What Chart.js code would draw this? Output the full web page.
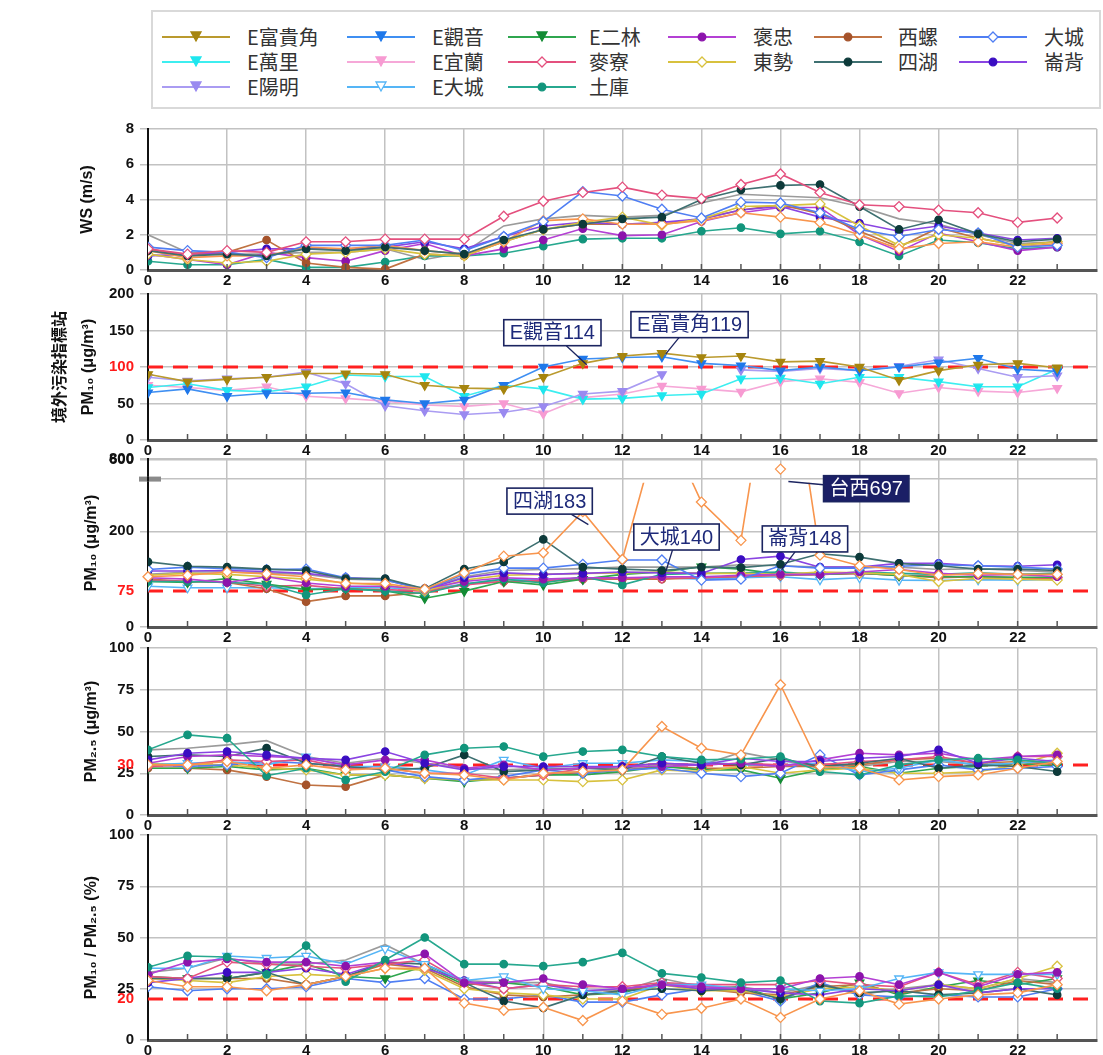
<!DOCTYPE html>
<html>
<head>
<meta charset="utf-8">
<script src="https://cdn.jsdelivr.net/npm/chart.js@4.4.1/dist/chart.umd.min.js"></script>
<style>
body { margin: 0; background: #fff; width: 1103px; height: 1055px; position: relative; overflow: hidden; }
canvas { position: absolute; left: 0; }
#legendBox { position: absolute; left: 151px; top: 10px; width: 946px; height: 95px; border: 2px solid #d9d9d9; }
.lgSample { position: absolute; }
.lgText { position: absolute; font: 20px 'Noto Sans CJK TC', sans-serif; color: #333; line-height: 22px; white-space: nowrap; }
</style>
</head>
<body>
<div id="legendBox"></div>
<script>
const hours = [0,1,2,3,4,5,6,7,8,9,10,11,12,13,14,15,16,17,18,19,20,21,22,23];

// legend order (6 per row)
const stations = ['E富貴角','E觀音','E二林','褒忠','西螺','大城','E萬里','E宜蘭','麥寮','東勢','四湖','崙背','E陽明','E大城','土庫'];

// styles per name (台西 and the grey line are not in the legend)
const styleNames   = ['E富貴角','E觀音','E二林','褒忠','西螺','大城','E萬里','E宜蘭','麥寮','東勢','四湖','崙背','E陽明','E大城','土庫','台西',''];
const lineColors   = ['#BA9A2E','#3F8FF2','#2FA64F','#B440D4','#C07242','#4F7EF3','#3DEEF0','#F6A8D8','#E4507E','#D8C13E','#3E7071','#8A44E2','#AA9CF2','#55B5F6','#27A88F','#F8954D','#9B9B9B'];
const markerColors = ['#A6850F','#1F78EA','#138B34','#8C14AC','#A5532B','#4F7EF3','#1FE6EE','#F79BD2','#E4507E','#D8C13E','#0D3A3A','#3A0DC2','#9A8AF0','#55B5F6','#12957C','#F8954D',null];
const markerShapes = ['tri','tri','tri','circle','circle','diamond','tri','tri','diamond','diamond','circle','circle','tri','tri','circle','diamond',null];
const markerOpen   = [0,0,0,0,0,1,0,0,1,1,0,0,0,1,0,1,0];

// ---- panel 1: WS (m/s)
const wsNames = ['麥寮','四湖','大城','台西','東勢','崙背','西螺','褒忠','土庫',''];
const wsValues = [
  [1.2,0.9,1.1,1.0,1.6,1.6,1.75,1.75,1.75,3.05,3.9,4.4,4.7,4.25,4.05,4.85,5.45,4.4,3.7,3.6,3.4,3.25,2.7,2.95],
  [1.1,0.8,0.9,0.8,1.2,1.1,1.3,1.1,0.9,1.7,2.3,2.6,2.9,3.0,4.0,4.55,4.8,4.85,3.6,2.3,2.85,2.05,1.6,1.75],
  [1.3,1.1,1.0,0.7,1.4,1.4,1.4,1.7,1.1,1.9,2.75,4.45,4.2,3.45,2.95,3.85,3.8,3.25,2.3,1.9,2.3,2.1,1.3,1.4],
  [1.1,0.7,0.8,0.8,1.3,1.2,1.4,1.1,0.9,1.6,2.8,2.9,2.6,2.6,2.8,3.25,3.0,2.7,2.0,1.2,1.5,1.6,1.3,1.5],
  [0.9,0.6,0.4,0.5,0.9,1.0,1.2,0.9,0.8,1.6,2.3,2.7,3.0,2.55,2.9,3.6,3.65,3.75,2.5,1.4,2.0,1.8,1.4,1.6],
  [0.8,0.9,1.0,1.2,1.2,1.2,1.3,1.6,1.2,1.9,2.5,2.7,2.6,2.7,2.9,3.4,3.6,3.0,2.65,2.2,2.5,2.1,1.7,1.8],
  [1.2,0.8,1.0,1.7,0.4,0.15,0.05,0.9,0.8,1.6,2.3,2.6,2.6,2.6,2.9,3.4,3.7,3.2,2.2,1.3,2.4,1.8,1.4,1.6],
  [0.9,0.6,0.3,1.0,0.7,0.5,1.1,1.5,0.8,1.2,1.7,2.35,1.95,2.0,2.75,3.25,3.55,3.55,2.0,1.05,2.1,1.6,1.1,1.3],
  [0.5,0.3,0.3,0.6,0.15,0.15,0.45,0.8,0.8,0.95,1.35,1.75,1.8,1.8,2.2,2.4,2.05,2.2,1.6,0.8,1.7,1.55,1.2,1.3],
  [2.0,1.0,0.9,0.9,1.0,1.0,1.2,0.6,1.0,2.5,2.9,3.1,3.0,3.1,3.8,4.3,4.2,4.1,3.6,2.9,2.6,2.0,1.5,1.6]
];
const wsTicks = [0,2,4,6,8];
const wsTickLabels = ['0','2','4','6','8'];

// ---- panel 2: PM10 at the background (E) stations
const pm10ENames = ['E富貴角','E觀音','E陽明','E萬里','E宜蘭','E二林'];
const pm10EValues = [
  [90,80,83,86,91,91,90,75,71,70,86,105,115,119,113,115,107,108,100,82,95,103,105,99],
  [65,70,60,64,64,65,55,50,55,75,100,111,113,114,105,102,95,100,95,100,106,112,97,94],
  [86,81,84,86,93,77,47,40,35,38,46,63,67,90,null,96,94,98,95,101,110,98,86,88],
  [72,77,68,66,73,89,87,87,60,75,70,56,57,61,63,84,85,77,86,86,80,73,73,97],
  [75,72,68,73,60,57,53,48,46,50,36,58,63,74,70,66,80,84,79,64,72,67,65,71],
  [null,null,null,null,null,null,null,null,null,null,null,null,null,null,null,null,null,null,null,null,null,null,null,98]
];
const pm10ETicks = [0,50,100,150,200];
const pm10ETickLabels = ['0','50','100','150','200'];

// ---- panel 3: PM10 (broken axis, top band 600-800)
const pm10Names = ['台西','四湖','大城','崙背','褒忠','東勢','土庫','E二林','麥寮','西螺','E大城',''];
const pm10Values = [
  [105,108,115,111,105,91,91,79,113,148,155,241,141,440,261,181,697,150,128,120,108,112,110,110],
  [136,127,125,121,118,101,101,80,121,136,183,125,121,118,125,124,131,153,146,133,128,121,121,118],
  [120,125,122,120,121,103,98,78,110,123,123,131,140,140,98,100,128,123,123,127,130,128,125,121],
  [117,117,118,116,112,103,100,78,103,113,110,112,115,113,112,141,148,125,125,133,133,128,127,130],
  [103,100,93,105,92,85,85,80,95,103,100,103,103,105,105,108,110,110,115,120,112,108,110,105],
  [108,112,110,105,100,92,88,75,98,108,110,112,113,115,112,112,110,115,113,110,95,102,100,98],
  [95,95,93,90,67,80,75,70,90,100,92,105,88,110,112,113,115,110,115,112,110,113,110,112],
  [95,93,101,90,78,80,76,60,75,95,88,100,110,115,126,121,110,110,113,107,105,105,104,104],
  [98,95,94,85,87,80,78,75,88,95,97,100,102,102,103,106,108,110,112,108,106,105,103,103],
  [100,95,93,80,53,65,65,72,90,95,95,100,100,100,103,105,108,110,112,108,103,105,103,100],
  [85,82,82,82,80,82,82,78,90,100,98,100,103,103,100,103,105,99,103,98,97,99,98,100],
  [110,115,115,113,110,100,98,80,105,118,120,122,125,125,125,130,128,125,125,125,120,122,118,115]
];
const pm10Break = 302;          // top of the lower part of the axis
const pm10Max = 351;            // top of the plot
const pm10BandRange = [600, 800];
const pm10Ticks = [0,75,200,310,349,351];
const pm10TickLabels = ['0','75','200','','600','800'];

// ---- panel 4: PM2.5
const pm25Names = ['台西','土庫','崙背','褒忠','四湖','麥寮','E大城','大城','東勢','E二林','西螺',''];
const pm25Values = [
  [30,30,32,28,30,27,28,25,24,21,25,26,27,53,40,36,78,29,28,21,23,24,28,32],
  [39,48,46,23.5,28,21,26,36,40,41,35,38,39,35,33,33.5,35,26,24,30,33,34,33,31],
  [33,37,38,36,34,33,38,31,27,29,29,29,29,31,30,34,32,32,34,35,39,31,34,32],
  [31,35,36,35,34,30,33,33,28,30,27,28,29,29,30,31,29,33,37,36,37,33,35,36],
  [35,36,35,40,31,29,27,28,36,26,27,28,27,35,31,30,34,29,31,34,28,30,29,26],
  [29,30,33,32,33,28,28,25,25,22,24,28,29,31,30,31,30,30,32,33,35,31,35,35],
  [30,31,32,30,35,29,29,27,24,33,28,31,31,33,32,30,30,31,26,28,33,30,31,33],
  [30,29,30,32,31,29,27,23,21,23,27,25,27,28,25,23,25,36,24,27,30,27,28,29],
  [31,30,30,28,27,24,24,22,21,21,21,20,21,27,26,29,25,27,28,25,25,26,30,37],
  [28,28,29,27,28,24,24,22,20,22,24,24,26,29,27,27,22,27,29,25,28,29,31,29],
  [28,28,27,23,18,17,24,22,21,22,24,25,27,29,28,28,29,29,30,33,34,31,32,30],
  [39,40,42,44.5,35,31,34,31,28,27,28,28,28,30,30,37.5,33,28,29,32,32,30,31,32]
];
const pm25Ticks = [0,25,30,50,75,100];
const pm25TickLabels = ['0','25','30','50','75','100'];

// ---- panel 5: PM10 / PM2.5 (%)
const ratioNames = ['台西','土庫','褒忠','E大城','麥寮','崙背','四湖','東勢','西螺','E二林','大城',''];
const ratioValues = [
  [29,26,26,24,27,31,35,35,18,14.5,16,9.5,19,12.5,15.5,20,11,20,24,17.5,20,22,23,27],
  [35.5,41,40.5,32,46,28.5,39,50,37,37,36,38,42.5,32.5,30.5,28,29,19,18,21.5,21,24,28,25],
  [32,38,39.5,38,38,36,38,42,28,28,30,27,25,27,26,25,25,30,31,27,33,26,32,33],
  [35,35,41,40,41,37,44.5,37,29,31,25,24,22,27,27,25,25,24,25,30,33,32,32,32],
  [31,30,38,37,36,35,37,39,28,25,27,26,26,28,27,27,27,29,27,26,33,27,33,30],
  [28,30,33,33,35,32,38,35,29,25,27,24,25,27,25,25,23,22,25,24,27,23,25,25],
  [30,30,30,33,27,31,38,37,28,19,15.7,22,24,25,24,25,20,27,23,24,22,23,25,22],
  [30,29,28,31,32,31,35,34,25,23,22,20,20,27,24,24,21,25,26,24,27,25,30,36],
  [30,30,30,30,27,31,37,35,26,22,21,22,24,27,25,23,22,26,27,23,25,24,29,27],
  [31,30,30,33,37,31,30,36,27,28,26,22,23,28,24,26,20,23,28,22,26,29,27,30],
  [26,24,25,25,26,30,28,30,20,20,22,18.5,18.5,22,25,24,19,28,22,21,22,21,21,25],
  [33,35,40,37,37,39,46.5,37,29,28,28,24,24,30,26,26,23,27,22,25,27,25,30,28]
];
const ratioTicks = [0,20,25,50,75,100];
const ratioTickLabels = ['0','20','25','50','75','100'];

// callouts: text, box centre (hour, value), tip (hour, value), dark box
const pm10ENotes = [
  ['E觀音114', 10.23, 147, 11.1, 103, false],
  ['E富貴角119', 13.7, 158, 13.1, 118, false]
];
const pm10Notes = [
  ['四湖183', 10.16, 263, 11.14, 214, false],
  ['大城140', 13.37, 188, 13.1, 116, false],
  ['崙背148', 16.62, 184, 16.03, 120, false],
  ['台西697', 18.17, 289, 16.2, 304, true]
];

const tickFont = { family: "'Liberation Sans', Arial, sans-serif", size: 15, weight: 'bold' };
const titleFont = { family: "'Liberation Sans', 'Noto Sans CJK TC', sans-serif", size: 16, weight: 'bold' };
const gridColor = '#c2c2c2';

function pointStyleOf(shape) {
  if (shape === 'tri') return 'triangle';
  if (shape === 'diamond') return 'rectRot';
  return 'circle';
}

function makeDataset(name, values, extra) {
  const s = styleNames.indexOf(name);
  const shape = markerShapes[s];
  return Object.assign({
    label: name,
    data: values.map((v, i) => ({ x: hours[i], y: v })),
    borderColor: lineColors[s],
    borderWidth: 1.6,
    pointStyle: pointStyleOf(shape),
    pointRotation: shape === 'tri' ? 180 : 0,
    pointRadius: shape ? (shape === 'circle' ? 3.7 : 5) : 0,
    pointBackgroundColor: markerOpen[s] ? '#ffffff' : (markerColors[s] || lineColors[s]),
    pointBorderColor: markerColors[s] || lineColors[s],
    pointBorderWidth: 1.3,
    tension: 0,
    spanGaps: false
  }, extra || {});
}

function makePanel(p) {
  const padTop = 12, axisH = 22;
  const canvas = document.createElement('canvas');
  const h = p.bottom - p.top + padTop + axisH;
  canvas.width = 1103; canvas.height = h;
  canvas.style.width = '1103px'; canvas.style.height = h + 'px';
  canvas.style.top = (p.top - padTop) + 'px';
  document.body.appendChild(canvas);

  const panelPlugin = {
    id: 'panelExtras',
    beforeDatasetsDraw(chart) {
      if (p.limit == null) return;
      const { ctx, chartArea } = chart;
      const y = chart.scales.y.getPixelForValue(p.limit);
      ctx.save();
      ctx.strokeStyle = '#ff2020';
      ctx.lineWidth = 3;
      ctx.setLineDash([15, 10]);
      ctx.beginPath();
      ctx.moveTo(chartArea.left, y);
      ctx.lineTo(chartArea.right - 4, y);
      ctx.stroke();
      ctx.restore();
    },
    afterDatasetsDraw(chart) {
      const { ctx, chartArea } = chart;
      const xs = chart.scales.x, ys = chart.scales.y;
      ctx.save();
      // hourly tick marks on the bottom axis
      ctx.strokeStyle = '#555';
      ctx.lineWidth = 1.5;
      for (let hr = 1; hr < 24; hr++) {
        const x = xs.getPixelForValue(hr);
        ctx.beginPath();
        ctx.moveTo(x, chartArea.bottom);
        ctx.lineTo(x, chartArea.bottom - 6);
        ctx.stroke();
      }
      // axis break mark
      if (p.breakMark != null) {
        const y = ys.getPixelForValue(p.breakMark);
        ctx.fillStyle = '#8a8a8a';
        ctx.fillRect(chartArea.left - 9, y - 3, 22, 5);
        ctx.strokeStyle = '#111';
        ctx.lineWidth = 2;
        ctx.beginPath();
        ctx.moveTo(chartArea.left, y - 3);
        ctx.lineTo(chartArea.left, y + 2);
        ctx.stroke();
      }
      // callouts
      (p.notes || []).forEach(n => {
        const [text, bh, bv, th, tv, dark] = n;
        ctx.font = "20px 'Liberation Sans', 'Noto Sans CJK TC', sans-serif";
        const w = ctx.measureText(text).width + 12, hh = 26;
        const cx = xs.getPixelForValue(bh), cy = ys.getPixelForValue(bv);
        const tx = xs.getPixelForValue(th), ty = ys.getPixelForValue(tv);
        // start of the pointer on the box edge
        const dx = tx - cx, dy = ty - cy;
        const t = Math.min(Math.abs((w / 2) / (dx || 1e-6)), Math.abs((hh / 2) / (dy || 1e-6)));
        ctx.strokeStyle = '#1b2460';
        ctx.lineWidth = 1.3;
        ctx.beginPath();
        ctx.moveTo(cx + dx * t, cy + dy * t);
        ctx.lineTo(tx, ty);
        ctx.stroke();
        ctx.fillStyle = dark ? '#1b1f66' : '#ffffff';
        ctx.fillRect(cx - w / 2, cy - hh / 2, w, hh);
        ctx.lineWidth = 1.6;
        ctx.strokeRect(cx - w / 2, cy - hh / 2, w, hh);
        ctx.fillStyle = dark ? '#ffffff' : '#1e2a7a';
        ctx.textAlign = 'center';
        ctx.textBaseline = 'middle';
        ctx.fillText(text, cx, cy + 1);
      });
      ctx.restore();
    }
  };

  new Chart(canvas.getContext('2d'), {
    type: 'line',
    data: { datasets: p.datasets },
    options: {
      responsive: false,
      animation: false,
      layout: { padding: { top: padTop, right: 3, left: 0, bottom: 0 } },
      plugins: { legend: { display: false }, tooltip: { enabled: false } },
      scales: {
        x: {
          type: 'linear', min: 0, max: 24,
          afterFit: s => { s.height = axisH; },
          afterBuildTicks: s => { s.ticks = [0,2,4,6,8,10,12,14,16,18,20,22,24].map(v => ({ value: v })); },
          ticks: {
            autoSkip: false, maxRotation: 0, padding: 2, color: '#111', font: tickFont,
            callback: v => (v === 24 ? '' : String(v))
          },
          grid: { color: gridColor, lineWidth: 1.5, drawTicks: false },
          border: { color: '#555', width: 3 }
        },
        y: {
          min: p.ticks[0], max: p.yMax,
          afterFit: s => { s.width = 148; },
          afterBuildTicks: s => { s.ticks = p.ticks.map(v => ({ value: v })); },
          ticks: {
            autoSkip: false, padding: 6, font: tickFont,
            color: c => (c.tick && c.tick.value === p.redTick ? '#ff1a1a' : '#111'),
            callback: (v, i) => p.tickLabels[i]
          },
          grid: {
            lineWidth: 1.5, tickLength: 8,
            color: c => (c.tick && (c.tick.value === p.redTick && p.redTick !== p.limitGrid) ? 'rgba(0,0,0,0)' : gridColor)
          },
          border: { color: '#111', width: 2 },
          title: {
            display: true, text: p.title, color: '#111',
            font: Object.assign({}, titleFont, { lineHeight: p.titleLine || 1.2 }),
            padding: { top: p.titlePad, bottom: 0 }
          }
        }
      }
    },
    plugins: [panelPlugin]
  });
}

// ---- legend
const colLine = [162, 347, 508, 668, 814, 959];
const colText = [247, 432, 589, 753, 898, 1044];
const rowY = [38, 63, 88];
function sampleSvg(s) {
  const c = lineColors[s], m = markerColors[s] || c, fill = markerOpen[s] ? '#fff' : m;
  let mk = '';
  if (markerShapes[s] === 'tri') mk = `<polygon points="29,2 39,2 34,11" fill="${fill}" stroke="${m}" stroke-width="1.3"/>`;
  if (markerShapes[s] === 'circle') mk = `<circle cx="34" cy="7" r="3.8" fill="${fill}" stroke="${m}" stroke-width="1.3"/>`;
  if (markerShapes[s] === 'diamond') mk = `<polygon points="34,2 39,7 34,12 29,7" fill="${fill}" stroke="${m}" stroke-width="1.3"/>`;
  return `<svg width="68" height="14"><line x1="0" y1="7" x2="68" y2="7" stroke="${c}" stroke-width="2"/>${mk}</svg>`;
}
stations.forEach((name, i) => {
  const col = i % 6, row = Math.floor(i / 6);
  const s = styleNames.indexOf(name);
  const smp = document.createElement('div');
  smp.className = 'lgSample';
  smp.style.left = colLine[col] + 'px';
  smp.style.top = (rowY[row] - 8) + 'px';
  smp.innerHTML = sampleSvg(s);
  document.body.appendChild(smp);
  const tx = document.createElement('div');
  tx.className = 'lgText';
  tx.style.left = colText[col] + 'px';
  tx.style.top = (rowY[row] - 12) + 'px';
  tx.textContent = name;
  document.body.appendChild(tx);
});

// ---- panels
makePanel({
  top: 126, bottom: 270, yMax: 8, ticks: wsTicks, tickLabels: wsTickLabels,
  title: 'WS (m/s)', titlePad: 78, limit: null,
  datasets: wsNames.map((n, k) => makeDataset(n, wsValues[k]))
});

makePanel({
  top: 291, bottom: 440, yMax: 200, ticks: pm10ETicks, tickLabels: pm10ETickLabels,
  title: ['境外污染指標站', 'PM₁₀ (μg/m³)'], titlePad: 47, titleLine: 1.75,
  limit: 100, redTick: 100, limitGrid: 100, notes: pm10ENotes,
  datasets: pm10ENames.map((n, k) => makeDataset(n, pm10EValues[k]))
});

(function () {
  const top = 456, bottom = 627;
  const clipPx = (pm10Max - pm10Break) / pm10Max * (bottom - top);
  const bandBase = pm10Ticks[3];
  const toBand = v => bandBase + (v - pm10BandRange[0]) * (pm10Max - bandBase) / (pm10BandRange[1] - pm10BandRange[0]);
  const sets = [];
  pm10Names.forEach((n, k) => {
    const vals = pm10Values[k];
    if (vals.some(v => v > pm10Break)) {
      sets.push(makeDataset(n, vals.map(v => (v > pm10BandRange[0] ? toBand(v) : null)), { showLine: false }));
      sets.push(makeDataset(n, vals, { clip: { left: false, right: false, bottom: false, top: -clipPx } }));
    } else {
      sets.push(makeDataset(n, vals));
    }
  });
  makePanel({
    top, bottom, yMax: pm10Max, ticks: pm10Ticks, tickLabels: pm10TickLabels,
    title: 'PM₁₀ (μg/m³)', titlePad: 82, limit: 75, redTick: 75, breakMark: pm10Ticks[3] - 2,
    notes: pm10Notes, datasets: sets
  });
})();

makePanel({
  top: 645, bottom: 815, yMax: 100, ticks: pm25Ticks, tickLabels: pm25TickLabels,
  title: 'PM₂.₅ (μg/m³)', titlePad: 82, limit: 30, redTick: 30,
  datasets: pm25Names.map((n, k) => makeDataset(n, pm25Values[k]))
});

makePanel({
  top: 832, bottom: 1040, yMax: 100, ticks: ratioTicks, tickLabels: ratioTickLabels,
  title: 'PM₁₀ / PM₂.₅ (%)', titlePad: 82, limit: 20, redTick: 20,
  datasets: ratioNames.map((n, k) => makeDataset(n, ratioValues[k]))
});
</script>
</body>
</html>
